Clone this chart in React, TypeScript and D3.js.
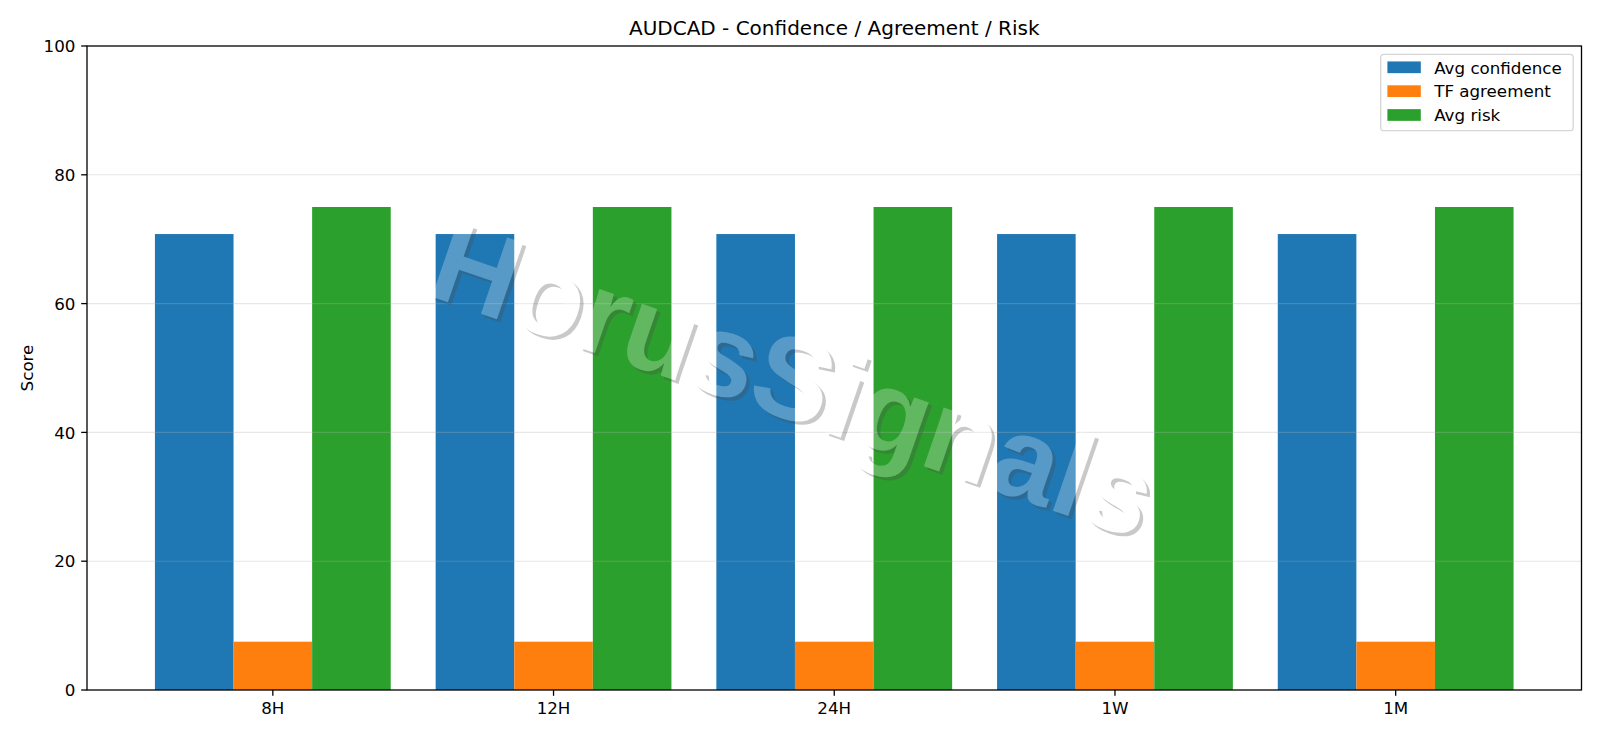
import React from 'react';
import * as d3 from 'd3';

const categories = ['8H', '12H', '24H', '1W', '1M'];
const avgConfidence = [70.8, 70.8, 70.8, 70.8, 70.8];
const tfAgreement = [7.5, 7.5, 7.5, 7.5, 7.5];
const avgRisk = [75, 75, 75, 75, 75];
const seriesNames = ['Avg confidence', 'TF agreement', 'Avg risk'];
const seriesColors = ['#1f77b4', '#ff7f0e', '#2ca02c'];
const yTicks = [0, 20, 40, 60, 80, 100];
const gridTicks = [20, 40, 60, 80];
const title = 'AUDCAD - Confidence / Agreement / Risk';
const yLabel = 'Score';
const watermark = 'HorusSignals';

const W = 1600;
const H = 738;
const FONT = '"DejaVu Sans", Verdana, sans-serif';
const WM_FONT = '"Liberation Sans", Arial, sans-serif';

export default function App() {
  const left = 87;
  const right = 1581.5;
  const top = 46;
  const bottom = 690;
  const fs = 16.7;
  const tickLen = 5.8;
  const pad = 5.8;

  const barW = 0.28;
  const n = categories.length;
  const lo = -1.5 * barW;
  const hi = n - 1 + 1.5 * barW;
  const m = (hi - lo) * 0.05;
  const x = d3.scaleLinear().domain([lo - m, hi + m]).range([left, right]);
  const y = d3.scaleLinear().domain([0, 100]).range([bottom, top]);
  const bw = x(barW) - x(0);

  const series = [avgConfidence, tfAgreement, avgRisk];

  // watermark placement
  const wmX = 781;
  const wmY = 417;
  const wmRot = 19;
  const wmSize = 117;

  // legend
  const lgRight = right - 8.3;
  const lgTop = top + 8.3;
  const lgW = 192.5;
  const lgH = 76.4;
  const lgLeft = lgRight - lgW;
  const rowPitch = 23.85;
  const row0 = lgTop + 13.0;

  const wmProps = {
    textAnchor: 'middle' as const,
    fontSize: wmSize,
    fontFamily: WM_FONT,
    fontWeight: 'bold' as const,
  };

  return (
    <svg
      width={W}
      height={H}
      viewBox={`0 0 ${W} ${H}`}
      style={{ position: 'absolute', left: 0, top: 0, background: '#fff' }}
      fontFamily={FONT}
    >
      <defs>
        <mask id="wmKnock" maskUnits="userSpaceOnUse" x={0} y={0} width={W} height={H}>
          <rect x={0} y={0} width={W} height={H} fill="#fff" />
          <text transform={`translate(${wmX},${wmY}) rotate(${wmRot})`} {...wmProps} fill="#000">
            {watermark}
          </text>
        </mask>
      </defs>
      <rect x={0} y={0} width={W} height={H} fill="#fff" />

      {/* bars */}
      {series.map((vals, si) => (
        <g key={si}>
          {vals.map((v, ci) => {
            const cx = x(ci + (si - 1) * barW);
            return (
              <rect
                key={ci}
                x={cx - bw / 2}
                y={y(v)}
                width={bw}
                height={y(0) - y(v)}
                fill={seriesColors[si]}
              />
            );
          })}
        </g>
      ))}

      {/* grid */}
      {gridTicks.map((t) => (
        <line
          key={t}
          x1={left}
          x2={right}
          y1={y(t)}
          y2={y(t)}
          stroke="#b0b0b0"
          strokeOpacity={0.3}
          strokeWidth={1.1}
        />
      ))}

      {/* watermark */}
      <g mask="url(#wmKnock)">
        <text
          transform={`translate(${wmX + 3.3},${wmY + 3.3}) rotate(${wmRot})`}
          {...wmProps}
          fill="#4d4d4d"
          fillOpacity={0.3}
        >
          {watermark}
        </text>
      </g>
      <text
        transform={`translate(${wmX},${wmY}) rotate(${wmRot})`}
        {...wmProps}
        fill="#ffffff"
        fillOpacity={0.25}
      >
        {watermark}
      </text>

      {/* spines */}
      <rect
        x={left}
        y={top}
        width={right - left}
        height={bottom - top}
        fill="none"
        stroke="#000"
        strokeWidth={1.3}
      />

      {/* y ticks */}
      {yTicks.map((t) => (
        <g key={t}>
          <line x1={left - tickLen} x2={left} y1={y(t)} y2={y(t)} stroke="#000" strokeWidth={1.3} />
          <text
            x={left - tickLen - pad}
            y={y(t) + 6.1}
            textAnchor="end"
            fontSize={fs}
            fill="#000"
          >
            {t}
          </text>
        </g>
      ))}

      {/* x ticks */}
      {categories.map((c, i) => (
        <g key={c}>
          <line x1={x(i)} x2={x(i)} y1={bottom} y2={bottom + tickLen} stroke="#000" strokeWidth={1.3} />
          <text x={x(i)} y={bottom + tickLen + pad + 12.2} textAnchor="middle" fontSize={fs} fill="#000">
            {c}
          </text>
        </g>
      ))}

      {/* y label */}
      <text
        transform={`translate(33,${(top + bottom) / 2}) rotate(-90)`}
        textAnchor="middle"
        fontSize={fs}
        fill="#000"
      >
        {yLabel}
      </text>

      {/* title */}
      <text x={(left + right) / 2} y={35} textAnchor="middle" fontSize={20} fill="#000">
        {title}
      </text>

      {/* legend */}
      <rect
        x={lgLeft}
        y={lgTop}
        width={lgW}
        height={lgH}
        rx={3.3}
        ry={3.3}
        fill="#fff"
        fillOpacity={0.8}
        stroke="#cccccc"
        strokeOpacity={0.8}
        strokeWidth={1.3}
      />
      {seriesNames.map((s, i) => {
        const cy = row0 + i * rowPitch;
        return (
          <g key={s}>
            <rect x={lgLeft + 6.7} y={cy - 5.85} width={33.4} height={11.7} fill={seriesColors[i]} />
            <text x={lgLeft + 6.7 + 33.4 + 13.4} y={cy + 6.3} fontSize={fs} fill="#000">
              {s}
            </text>
          </g>
        );
      })}
    </svg>
  );
}
